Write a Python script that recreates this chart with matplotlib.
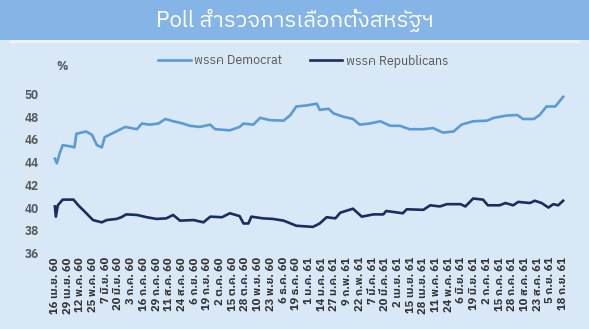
import matplotlib
matplotlib.use("Agg")
import matplotlib.pyplot as plt
from matplotlib import font_manager

# pick a font that has Thai glyphs, if any is installed
thai_fonts = [f.name for f in font_manager.fontManager.ttflist if "Thai" in f.name]
families = thai_fonts[:1] + ["DejaVu Sans"]
plt.rcParams["font.family"] = families

# day offsets from 16 Apr 2017 (16 เม.ย. 60)
dem_days = [0, 2, 5, 8, 15, 20, 22, 32, 38, 43, 48, 51, 58, 65, 72, 84, 89, 97, 106, 113,
            121, 131, 138, 148, 159, 164, 179, 189, 193, 203, 210, 220, 234, 241, 247, 258,
            268, 271, 280, 285, 295, 305, 312, 322, 333, 343, 353, 363, 377, 387, 397, 408,
            416, 428, 442, 449, 462, 473, 479, 490, 496, 503, 512, 520]
dem_vals = [44.3, 43.9, 44.8, 45.5, 45.4, 45.3, 46.5, 46.7, 46.4, 45.5, 45.3, 46.2, 46.5, 46.8,
            47.1, 46.9, 47.4, 47.3, 47.4, 47.8, 47.6, 47.4, 47.2, 47.1, 47.3, 46.9, 46.8, 47.1,
            47.4, 47.3, 47.9, 47.7, 47.65, 48.15, 48.9, 49.0, 49.15, 48.6, 48.7, 48.3, 48.0,
            47.8, 47.3, 47.4, 47.6, 47.2, 47.2, 46.9, 46.9, 47.0, 46.6, 46.7, 47.3, 47.6,
            47.65, 47.9, 48.1, 48.15, 47.8, 47.8, 48.15, 48.9, 48.9, 49.75]

rep_days = [0, 1, 3, 8, 19, 24, 31, 39, 48, 53, 63, 68, 73, 84, 94, 104, 114, 121, 128, 142,
            152, 159, 171, 179, 189, 193, 198, 201, 213, 223, 234, 247, 264, 271, 278, 287,
            292, 305, 314, 326, 336, 339, 356, 360, 377, 384, 394, 401, 415, 420, 428, 438,
            443, 455, 461, 469, 474, 486, 491, 498, 505, 510, 515, 520]
rep_vals = [40.1, 39.2, 40.2, 40.7, 40.7, 40.2, 39.6, 38.9, 38.7, 38.9, 39.0, 39.15, 39.4,
            39.35, 39.15, 39.0, 39.05, 39.35, 38.85, 38.9, 38.7, 39.2, 39.15, 39.5, 39.25,
            38.6, 38.6, 39.2, 39.05, 39.0, 38.85, 38.4, 38.3, 38.6, 39.15, 39.05, 39.55, 39.9,
            39.2, 39.4, 39.4, 39.7, 39.5, 39.85, 39.8, 40.2, 40.1, 40.3, 40.3, 40.1, 40.8,
            40.7, 40.2, 40.2, 40.4, 40.2, 40.5, 40.4, 40.6, 40.4, 40.0, 40.3, 40.2, 40.6]

tick_labels = ["16 เม.ย. 60", "29 เม.ย. 60", "12 พ.ค. 60", "25 พ.ค. 60", "7 มิ.ย. 60",
               "20 มิ.ย. 60", "3 ก.ค. 60", "16 ก.ค. 60", "29 ก.ค. 60", "11 ส.ค. 60",
               "24 ส.ค. 60", "6 ก.ย. 60", "19 ก.ย. 60", "2 ต.ค. 60", "15 ต.ค. 60",
               "28 ต.ค. 60", "10 พ.ย. 60", "23 พ.ย. 60", "6 ธ.ค. 60", "19 ธ.ค. 60",
               "1 ม.ค. 61", "14 ม.ค. 61", "27 ม.ค. 61", "9 ก.พ. 61", "22 ก.พ. 61",
               "7 มี.ค. 61", "20 มี.ค. 61", "2 เม.ย. 61", "15 เม.ย. 61", "28 เม.ย. 61",
               "11 พ.ค. 61", "24 พ.ค. 61", "6 มิ.ย. 61", "19 มิ.ย. 61", "2 ก.ค. 61",
               "15 ก.ค. 61", "28 ก.ค. 61", "10 ส.ค. 61", "23 ส.ค. 61", "5 ก.ย. 61",
               "18 ก.ย. 61"]
tick_step = 13

bg = "#d9e8f6"
band = "#85b4e6"
grey = "#595959"

fig = plt.figure(figsize=(5.89, 3.29), dpi=100, facecolor=bg)
fig.patches.append(plt.Rectangle((0, 1 - 40/329), 1, 40/329, transform=fig.transFigure,
                                 facecolor=band, edgecolor="none", zorder=0))
fig.patches.append(plt.Rectangle((10/589, 1 - 43/329), 570/589, 3/329, transform=fig.transFigure,
                                 facecolor="#eaf3fc", edgecolor="none", zorder=0))
fig.text(0.5, 1 - 20/329, "Poll สำรวจการเลือกตั้งสหรัฐฯ", color="white", fontsize=16,
         ha="center", va="center")

ax = fig.add_axes([50/589, 1 - 253/329, 518/589, 159/329])
ax.set_facecolor(bg)
ax.plot(dem_days, dem_vals, color="#5b9bd5", lw=1.9, label="พรรค Democrat", solid_joinstyle="round")
ax.plot(rep_days, rep_vals, color="#1a2d5e", lw=1.9, label="พรรค Republicans", solid_joinstyle="round")

ax.set_xlim(-5, 525)
ax.set_ylim(36, 50)
ax.set_yticks(range(36, 51, 2))
ax.set_xticks([i * tick_step for i in range(len(tick_labels))])
ax.set_xticklabels(tick_labels, rotation=90, fontsize=8, color="#333333", fontweight="bold")
ax.tick_params(axis="y", labelsize=8.5, labelcolor=grey, length=0, pad=8)
ax.tick_params(axis="x", length=0, pad=3)
for lbl in ax.get_yticklabels():
    lbl.set_fontweight("bold")
for s in ax.spines.values():
    s.set_visible(False)

fig.text(62/589, 1 - 67/329, "%", fontsize=8.5, color=grey, fontweight="bold", ha="center", va="center")

leg = ax.legend(loc="center", bbox_to_anchor=(0.515, 1 - 61/329), bbox_transform=fig.transFigure,
                ncol=2, frameon=False, fontsize=9, labelcolor=grey, handlelength=2.6,
                columnspacing=2.2, handletextpad=0.3)

fig.savefig("out.png", dpi=100, facecolor=bg)
